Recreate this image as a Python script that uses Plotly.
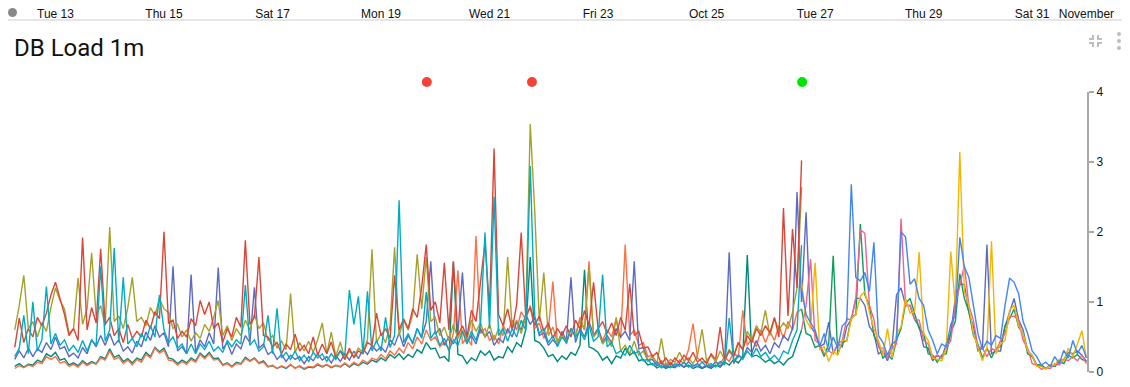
import pandas as pd
import plotly.graph_objects as go

# ---------------- data ----------------
# segment 1: 2-hourly from 2020-10-12 06:00 to 2020-10-26 18:00
seg1_start = "2020-10-12 06:00"
seg1_red = [0.35,0.77,0.42,0.62,0.5,0.78,0.66,0.84,1.1,
    1.28,1.05,0.82,0.52,0.62,0.45,1.92,0.6,0.92,0.7,1.76,0.68,
    0.78,0.52,0.62,0.42,0.68,0.48,0.58,0.5,0.74,0.62,0.86,0.76,
    2.0,0.7,0.74,0.48,0.58,0.5,0.76,0.66,1.02,0.82,1.0,0.62,
    0.7,0.42,0.62,0.5,0.78,0.64,1.88,0.68,0.78,1.64,0.52,0.5,
    0.36,0.42,0.26,0.4,0.32,0.54,0.3,0.38,0.26,0.5,0.24,0.4,
    0.26,0.43,0.2,0.3,0.18,0.34,0.2,0.3,0.26,0.42,0.38,0.84,
    0.52,0.62,0.48,1.38,0.6,0.76,0.62,0.9,0.78,1.21,1.82,0.88,
    1.0,0.7,1.56,0.6,1.58,0.52,0.66,0.5,0.88,0.72,1.31,1.85,
    0.9,3.19,0.82,0.66,0.9,0.6,0.96,1.99,0.8,0.92,0.66,0.8,
    0.58,0.7,0.48,0.62,0.52,0.66,0.5,0.74,0.62,0.88,0.66,1.28,
    0.62,0.72,0.55,0.7,0.52,0.78,0.6,1.26,0.52,0.58,0.34,0.36,
    0.22,0.28,0.12,0.2,0.1,0.2,0.13,0.24,0.16,0.28,0.14,0.2,
    0.12,0.26,0.18,0.64,0.16,0.3,0.22,0.42,0.32,0.52,0.42,0.62,
    0.52,0.66,0.56,0.78,0.5,2.34,0.8,2.04,1.2,3.02]
seg1_olive = [0.6,0.95,1.38,0.62,0.72,0.5,0.7,0.58,0.92,
    1.2,1.02,0.9,0.55,0.62,1.34,0.68,0.9,1.70,0.8,0.95,0.66,
    2.07,0.72,0.8,0.62,0.92,1.35,0.72,0.78,0.66,0.92,0.8,1.05,
    0.9,0.85,0.62,0.68,0.5,0.6,0.44,0.56,0.48,0.68,0.58,0.78,
    1.02,0.52,0.66,0.45,0.62,0.52,0.74,0.6,0.82,0.62,0.7,0.45,
    0.52,0.34,0.44,0.32,1.12,0.28,0.42,0.3,0.44,0.28,0.46,0.7,
    0.26,0.57,0.22,0.43,0.18,0.3,0.22,0.34,0.28,0.46,1.75,0.42,
    0.55,0.42,0.66,1.78,0.52,0.74,0.6,0.82,1.68,0.9,1.64,0.72,
    0.78,0.52,0.64,0.45,0.68,0.48,0.6,0.46,0.74,0.58,0.7,0.5,
    0.68,0.45,0.62,0.52,1.64,0.62,0.74,0.55,0.78,3.54,2.29,0.72,
    1.42,0.52,0.64,0.42,0.55,0.42,0.62,0.52,0.74,0.6,1.5,0.5,
    0.58,0.4,0.48,0.36,0.78,0.3,0.38,0.26,0.44,0.24,0.3,0.16,
    0.22,0.12,0.48,0.1,0.18,0.14,0.28,0.16,0.2,0.12,0.24,0.61,
    0.16,0.24,0.14,0.3,0.18,0.32,0.24,0.42,0.32,0.58,0.46,0.66,
    0.56,0.88,0.52,0.76,0.6,0.7,0.62,0.85,1.2,2.64]
seg1_indigo = [0.18,0.3,0.2,0.34,0.22,0.33,0.28,0.42,0.32,
    0.5,0.33,0.36,0.22,0.27,0.2,0.35,0.26,0.46,0.36,0.52,0.38,
    0.55,0.38,0.46,0.3,0.36,0.27,0.44,0.36,0.57,0.45,0.66,0.5,
    0.56,0.36,1.51,0.3,0.36,0.26,1.39,0.28,0.46,0.36,0.56,0.4,
    1.49,0.33,0.42,0.25,0.4,0.33,0.52,0.42,1.21,0.34,0.4,0.25,
    0.3,0.18,0.25,0.15,0.24,0.18,0.22,0.12,0.22,0.16,0.26,0.17,
    0.22,0.13,0.24,0.15,0.26,0.17,0.3,0.19,0.33,0.25,0.38,0.3,
    0.36,0.28,0.46,0.38,0.56,0.36,0.52,0.42,0.62,0.5,0.72,1.58,
    0.54,0.62,0.38,0.5,0.4,0.56,1.42,0.42,0.52,0.4,0.62,0.5,
    0.58,0.38,0.48,0.42,0.62,0.5,0.72,0.6,0.82,0.68,0.78,0.52,
    0.56,0.38,0.46,0.38,0.58,0.45,1.35,0.42,0.62,0.5,0.72,0.52,
    0.62,0.42,0.52,0.42,0.62,0.5,0.58,0.45,1.58,0.33,0.35,0.16,
    0.18,0.09,0.13,0.06,0.12,0.07,0.11,0.07,0.15,0.08,0.12,0.06,
    0.1,0.07,0.15,0.08,0.17,1.71,0.12,0.24,0.2,0.35,0.28,0.45,
    0.3,0.38,0.26,0.42,0.35,0.52,0.45,0.62,2.57,1.0]
seg1_cyan = [0.22,0.34,0.81,0.26,1.0,0.3,0.46,1.22,0.4,
    0.55,0.38,0.46,0.3,0.38,0.28,0.45,0.3,0.46,0.38,1.51,0.44,
    0.6,1.77,0.42,1.35,0.4,0.48,0.36,0.55,0.44,0.66,0.5,1.1,
    0.6,0.42,0.5,0.34,0.4,0.26,0.4,0.26,0.4,0.32,0.44,0.3,
    0.36,0.28,0.45,0.36,0.46,0.4,1.24,0.38,0.46,0.3,0.36,0.81,
    0.26,0.91,0.2,0.28,0.18,0.3,0.16,0.24,0.15,0.28,0.2,0.26,
    0.15,0.26,0.18,0.3,0.24,1.17,0.68,1.08,0.26,1.15,0.3,0.45,
    0.3,0.78,0.35,0.52,2.45,0.42,0.55,0.4,0.62,0.48,1.14,0.48,
    0.58,0.38,0.48,0.3,0.46,0.38,0.58,0.4,0.58,0.45,0.68,1.99,
    0.62,2.5,0.52,0.62,0.44,0.62,0.5,0.74,0.6,2.94,0.8,0.55,
    0.62,0.42,0.52,0.36,0.5,0.42,0.62,0.5,0.58,0.46,0.66,0.44,
    0.5,1.39,0.36,0.42,0.26,0.3,0.24,0.38,0.26,0.3,0.16,0.18,
    0.1,0.14,0.06,0.1,0.06,0.12,0.08,0.14,0.07,0.1,0.08,0.14,
    0.08,0.12,0.07,0.15,0.1,0.77,0.16,0.24,0.18,0.3,0.22,0.34,
    0.22,0.28,0.18,0.24,0.16,0.3,0.26,0.45,0.6,1.81]
seg1_teal = [0.08,0.12,0.07,0.11,0.1,0.17,0.14,0.26,0.22,
    0.28,0.17,0.19,0.1,0.13,0.09,0.16,0.11,0.15,0.12,0.22,0.19,
    0.33,0.21,0.24,0.15,0.19,0.13,0.2,0.17,0.28,0.22,0.35,0.29,
    0.34,0.2,0.18,0.12,0.17,0.13,0.2,0.16,0.27,0.21,0.28,0.19,
    0.2,0.1,0.13,0.08,0.14,0.12,0.21,0.16,0.2,0.13,0.16,0.08,
    0.09,0.05,0.08,0.05,0.1,0.06,0.08,0.04,0.07,0.06,0.1,0.07,
    0.1,0.06,0.09,0.07,0.12,0.07,0.12,0.09,0.14,0.11,0.17,0.14,
    0.2,0.16,0.25,0.2,0.26,0.18,0.25,0.21,0.32,0.27,0.42,0.33,
    0.34,0.2,0.22,0.15,1.57,0.25,0.23,0.12,0.2,0.16,0.3,0.24,
    0.3,0.17,0.22,0.2,0.36,0.28,0.42,0.36,0.6,1.64,0.45,0.42,
    0.34,0.22,0.25,0.15,0.23,0.18,0.28,0.24,0.38,1.46,0.36,0.33,
    0.28,0.17,0.22,0.12,0.23,0.2,0.34,0.24,0.29,0.16,0.18,0.1,
    0.12,0.06,0.09,0.05,0.08,0.06,0.12,0.07,0.1,0.05,0.08,0.05,
    0.08,0.05,0.1,0.07,0.14,0.1,0.18,0.13,0.22,1.67,0.22,0.24,
    0.2,0.14,0.18,0.12,0.16,0.1,0.18,0.22,0.4,0.6]
seg1_coral = [0.05,0.09,0.06,0.1,0.08,0.14,0.12,0.22,0.18,
    0.22,0.13,0.15,0.08,0.11,0.07,0.14,0.09,0.13,0.11,0.2,0.17,
    0.3,0.18,0.21,0.12,0.17,0.1,0.18,0.14,0.25,0.2,0.34,0.27,
    0.31,0.17,0.16,0.1,0.15,0.11,0.18,0.14,0.25,0.19,0.26,0.17,
    0.18,0.09,0.12,0.07,0.12,0.11,0.19,0.15,0.19,0.12,0.14,0.07,
    0.1,0.05,0.09,0.06,0.11,0.05,0.09,0.05,0.08,0.07,0.12,0.08,
    0.11,0.07,0.1,0.08,0.13,0.08,0.14,0.1,0.17,0.13,0.2,0.17,
    0.25,0.19,0.3,0.24,0.34,0.27,0.42,0.33,0.5,0.4,0.6,0.45,
    0.5,0.36,0.42,0.33,0.55,1.45,0.4,0.5,0.38,1.94,0.55,0.62,
    0.45,0.52,0.4,0.66,0.55,0.74,0.6,0.86,0.75,0.95,0.62,0.7,
    0.48,0.6,1.29,0.42,0.55,0.4,0.62,0.5,0.78,0.6,1.58,0.52,
    0.62,0.45,0.6,0.5,0.76,0.48,1.82,0.52,0.6,0.38,0.42,0.22,
    0.24,0.12,0.16,0.08,0.14,0.08,0.17,0.12,0.32,0.69,0.2,0.14,
    0.15,0.08,0.14,0.12,0.22,0.15,0.28,0.2,0.88,0.38,0.48,0.36,
    0.6,0.42,0.58,0.45,0.66,0.48,0.72,0.6,0.85,0.9]

# segment 2: 2-hourly from 2020-10-26 18:00 to 2020-11-01 00:00
seg2_start = "2020-10-26 18:00"
seg2_blue = [1.19,0.82,0.7,
    0.6,0.36,0.55,0.3,0.5,0.34,0.66,0.72,2.68,1.35,1.3,1.42,
    1.15,1.85,0.52,0.42,0.24,0.4,0.45,2.0,1.93,1.25,1.33,1.05,
    0.95,0.6,0.45,0.26,0.4,0.36,0.68,0.82,1.92,1.5,1.35,0.95,
    0.55,0.32,0.44,0.38,0.52,0.48,0.95,1.34,1.28,1.12,0.72,0.55,
    0.3,0.22,0.1,0.14,0.08,0.22,0.12,0.31,0.2,0.45,0.26,0.38,0.2]
seg2_green = [0.9,0.55,0.52,
    0.35,0.38,0.22,0.4,1.66,0.26,0.42,0.45,0.78,0.82,2.11,1.1,
    0.95,0.52,0.4,0.2,0.26,0.18,0.46,0.62,0.98,1.05,0.85,0.62,
    0.55,0.26,0.24,0.14,0.24,0.26,0.56,0.72,1.4,1.05,0.86,0.52,
    0.4,0.2,0.34,0.2,0.34,0.36,0.66,0.76,0.9,0.64,0.55,0.26,
    0.22,0.1,0.1,0.05,0.1,0.08,0.15,0.12,0.24,0.2,0.25,0.18,0.15]
seg2_yellow = [1.28,0.75,0.62,
    1.56,0.32,0.36,0.15,0.3,0.24,0.46,0.44,0.76,0.82,1.08,1.15,
    0.85,0.62,0.45,0.24,0.62,0.2,0.55,0.64,1.05,0.84,0.86,1.71,
    0.55,0.45,0.2,0.18,0.16,0.34,1.72,0.95,3.14,1.15,0.95,0.55,
    0.35,0.16,0.34,1.87,0.26,0.4,0.45,0.88,0.95,0.66,0.55,0.3,
    0.24,0.08,0.08,0.04,0.1,0.1,0.18,0.16,0.34,0.22,0.4,0.59,0.2]
seg2_pink = [0.6,0.95,1.61,
    0.45,0.4,0.26,0.3,0.26,0.4,0.45,0.76,0.74,1.05,2.03,1.98,
    0.95,0.75,0.35,0.34,0.2,0.34,0.4,2.19,0.95,0.95,0.75,0.74,
    0.45,0.4,0.2,0.24,0.2,0.34,0.45,0.95,1.25,1.52,0.95,0.74,
    0.36,0.34,0.22,0.34,0.3,0.45,0.55,0.78,0.8,0.74,0.45,0.34,
    0.12,0.1,0.04,0.06,0.05,0.12,0.1,0.18,0.16,0.22,0.16,0.24,0.12]
seg2_indigo = [1.0,2.28,0.65,
    0.55,0.36,0.4,0.71,0.26,0.4,0.36,0.65,0.75,1.05,1.05,0.95,
    0.65,0.55,0.26,0.3,0.16,0.34,1.1,1.2,0.95,0.95,0.75,0.65,
    0.36,0.34,0.16,0.24,0.2,0.4,0.55,1.05,1.25,1.25,0.85,0.65,
    0.3,0.34,1.82,0.26,0.3,0.3,0.65,0.85,1.05,0.75,0.6,0.3,
    0.24,0.1,0.1,0.05,0.1,0.08,0.16,0.18,0.28,0.26,0.3,0.24,0.15]

event_times = ["2020-10-19 20:15", "2020-10-21 18:45", "2020-10-26 18:15"]
event_colors = ["#f44336", "#f44336", "#00e600"]

tick_dates = ["2020-10-13", "2020-10-15", "2020-10-17", "2020-10-19", "2020-10-21",
              "2020-10-23", "2020-10-25", "2020-10-27", "2020-10-29", "2020-10-31", "2020-11-01"]
tick_labels = ["Tue 13", "Thu 15", "Sat 17", "Mon 19", "Wed 21",
               "Fri 23", "Oct 25", "Tue 27", "Thu 29", "Sat 31", "November"]

# ---------------- figure ----------------
# the page body adds an 8px offset; positions below are given in screen pixels
OFF = 8
W, H = 1130 - OFF, 387 - OFF
L_, R_, T_, B_ = 14, 1087, 20, 372          # plot box on screen
ML, MR, MT, MB = L_ - OFF, W - (R_ - OFF), T_ - OFF, H - (B_ - OFF)
PW, PH = W - ML - MR, H - MT - MB


def px(x):
    return (x - OFF - ML) / PW


def py(y):
    return (H - MB - (y - OFF)) / PH


def times(start, vals):
    return pd.date_range(start, periods=len(vals), freq="2h")


fig = go.Figure()
seg1 = [("teal", seg1_teal, "#00897b"), ("coral", seg1_coral, "#ff7043"),
        ("indigo", seg1_indigo, "#5c6bc0"), ("olive", seg1_olive, "#a4a22c"),
        ("red", seg1_red, "#db4437"), ("cyan", seg1_cyan, "#00acc1")]
for name, vals, col in seg1:
    fig.add_trace(go.Scatter(x=times(seg1_start, vals), y=vals, mode="lines", name=name,
                             line=dict(color=col, width=1.4)))
seg2 = [("indigo2", seg2_indigo, "#5c6bc0"), ("green", seg2_green, "#0f9d58"),
        ("pink", seg2_pink, "#f06292"), ("yellow", seg2_yellow, "#f4b400"),
        ("blue", seg2_blue, "#4285f4")]
for name, vals, col in seg2:
    fig.add_trace(go.Scatter(x=times(seg2_start, vals), y=vals, mode="lines", name=name,
                             line=dict(color=col, width=1.4)))

# event markers on a thin strip axis above the plot
fig.add_trace(go.Scatter(x=event_times, y=[0.5] * len(event_times), yaxis="y2",
                         mode="markers", marker=dict(color=event_colors, size=10),
                         cliponaxis=False, name="events"))

shapes = []
shapes.append(dict(type="line", xref="paper", yref="paper", x0=px(0), x1=px(1130),
                   y0=py(20), y1=py(20), line=dict(color="#e6e6e6", width=2)))
shapes.append(dict(type="circle", xref="paper", yref="paper", x0=px(8), x1=px(17),
                   y0=py(17), y1=py(8), fillcolor="#888888", line=dict(width=0)))
icon = "#bdbdbd"
for pts in [[(1089, 39), (1093, 39), (1093, 35)],
            [(1098, 35), (1098, 39), (1102, 39)],
            [(1089, 43), (1093, 43), (1093, 47)],
            [(1102, 43), (1098, 43), (1098, 47)]]:
    path = "M" + " L".join(f"{px(a)},{py(b)}" for a, b in pts)
    shapes.append(dict(type="path", xref="paper", yref="paper", path=path,
                       line=dict(color=icon, width=2)))
for cy in (34, 41, 48):
    shapes.append(dict(type="circle", xref="paper", yref="paper",
                       x0=px(1117), x1=px(1121), y0=py(cy + 2), y1=py(cy - 2),
                       fillcolor=icon, line=dict(width=0)))

fig.update_layout(
    width=W, height=H, autosize=False,
    margin=dict(l=ML, r=MR, t=MT, b=MB, pad=0),
    paper_bgcolor="white", plot_bgcolor="white",
    showlegend=False,
    shapes=shapes,
    annotations=[dict(text="DB Load 1m", xref="paper", yref="paper", x=px(12), y=py(48),
                      xanchor="left", yanchor="middle", showarrow=False,
                      font=dict(family="Roboto", size=24, color="#111111"))],
    xaxis=dict(type="date", range=["2020-10-12 05:40", "2020-11-01 00:15"],
               anchor="free", position=1, side="top", automargin=False,
               showgrid=False, zeroline=False, showline=False, ticks="",
               tickmode="array", tickvals=tick_dates, ticktext=tick_labels,
               tickfont=dict(family="Liberation Sans, Arial", size=12, color="#111111")),
    yaxis=dict(range=[0, 4], domain=[0, py(91.7)], side="right", automargin=False,
               showgrid=False, zeroline=False, showline=True, linecolor="#a8a8a8",
               linewidth=2, ticks="outside", ticklen=5, tickwidth=2, tickcolor="#a8a8a8",
               tickvals=[0, 1, 2, 3, 4],
               tickfont=dict(family="Liberation Sans, Arial", size=12, color="#111111")),
    yaxis2=dict(range=[0, 1], domain=[py(92), py(72)], anchor="x", visible=False,
                showgrid=False, zeroline=False, fixedrange=True),
)

fig.write_html("out.html", config={"displayModeBar": False})
